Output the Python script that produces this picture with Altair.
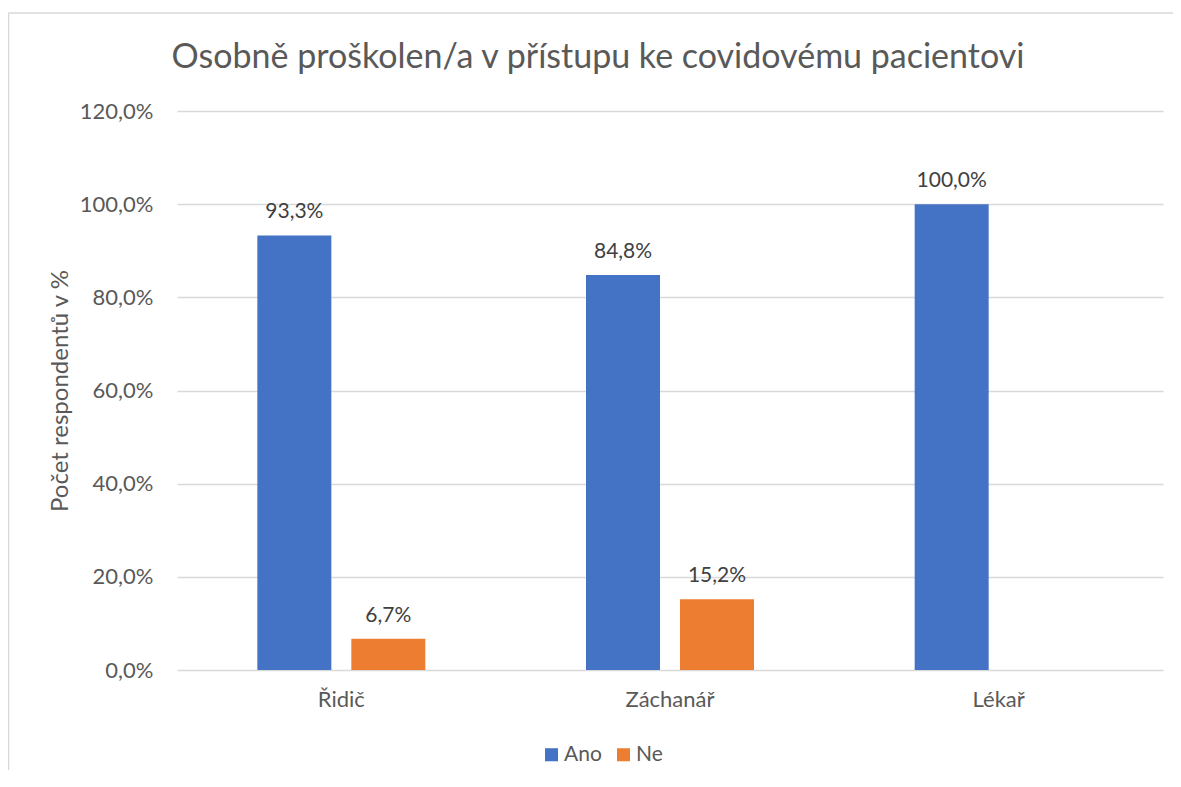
import altair as alt
import pandas as pd

categories = ["Řidič", "Záchanář", "Lékař"]
series = ["Ano", "Ne"]
ano_values = [93.3, 84.8, 100.0]
ne_values = [6.7, 15.2, None]
colors = ["#4472C4", "#ED7D31"]
title_text = "Osobně proškolen/a v přístupu ke covidovému pacientovi"

rows = []
for c, a, n in zip(categories, ano_values, ne_values):
    rows.append({"kategorie": c, "odpoved": "Ano", "hodnota": a})
    if n is not None:
        rows.append({"kategorie": c, "odpoved": "Ne", "hodnota": n})
df = pd.DataFrame(rows)
df["popis"] = df["hodnota"].map(lambda v: f"{v:.1f}".replace(".", ",") + "%")

FONT = "Lato"
TXT = "#595959"

W, H = 986, 559
PAD_L, PAD_T, PAD_R = 169, 103, 10
PAD_B = 762 - PAD_T - H

x_enc = alt.X("kategorie:N", sort=categories,
              scale=alt.Scale(paddingInner=0.489, paddingOuter=0.2445),
              axis=alt.Axis(title=None, labelAngle=0, labelFontSize=22, labelColor=TXT,
                            labelFont=FONT, labelPadding=19, ticks=False, domain=False,
                            grid=False))
xoff = alt.XOffset("odpoved:N", sort=series,
                   scale=alt.Scale(domain=series, paddingInner=0.213, paddingOuter=0))
y_enc = alt.Y("hodnota:Q",
              scale=alt.Scale(domain=[0, 120], nice=False),
              axis=alt.Axis(title="Počet respondentů v %", values=[0, 20, 40, 60, 80, 100, 120],
                            labelExpr="replace(format(datum.value, '.1f'), '.', ',') + '%'",
                            labelFontSize=22, labelColor=TXT, labelFont=FONT, labelPadding=24,
                            titleFontSize=24, titleColor=TXT, titleFont=FONT, titleFontWeight="normal",
                            titlePadding=7, ticks=False, domain=False,
                            grid=True, gridColor="#d9d9d9", gridWidth=1.3))

color_enc = alt.Color("odpoved:N", sort=series,
                      scale=alt.Scale(domain=series, range=colors),
                      legend=alt.Legend(title=None, orient="none", direction="horizontal",
                                        legendX=364, legendY=633, symbolType="square",
                                        symbolSize=170, symbolStrokeWidth=0, labelFontSize=21,
                                        labelColor=TXT, labelFont=FONT, labelOffset=2,
                                        columnPadding=11))

bars = alt.Chart(df).mark_bar(size=74).encode(
    x=x_enc, xOffset=xoff, y=y_enc, color=color_enc
)

labels = alt.Chart(df).mark_text(baseline="alphabetic", dy=-17, fontSize=21,
                                 font=FONT, color="#404040").encode(
    x=alt.X("kategorie:N", sort=categories), xOffset=xoff, y="hodnota:Q", text="popis:N"
)

deco = pd.DataFrame({"t": [title_text]})
border_left = alt.Chart(deco).mark_rule(stroke="#d9d9d9", strokeWidth=1.5).encode(
    x=alt.value(-168.5), y=alt.value(-98), y2=alt.value(700)
)
border_top = alt.Chart(deco).mark_rule(stroke="#d9d9d9", strokeWidth=1.5).encode(
    x=alt.value(-168.5), x2=alt.value(1100), y=alt.value(-98)
)
title = alt.Chart(deco).mark_text(fontSize=34, font=FONT, color=TXT, align="center",
                                  baseline="alphabetic").encode(
    x=alt.value(421), y=alt.value(-43), text="t:N"
)

chart = alt.layer(border_left, border_top, title, bars, labels).properties(
    width=W, height=H,
    autosize=alt.AutoSizeParams(type="none"),
    padding={"left": PAD_L, "top": PAD_T, "right": PAD_R, "bottom": PAD_B},
).configure_view(stroke=None)

chart.save("out.html", embed_options={"renderer": "svg", "actions": False})
